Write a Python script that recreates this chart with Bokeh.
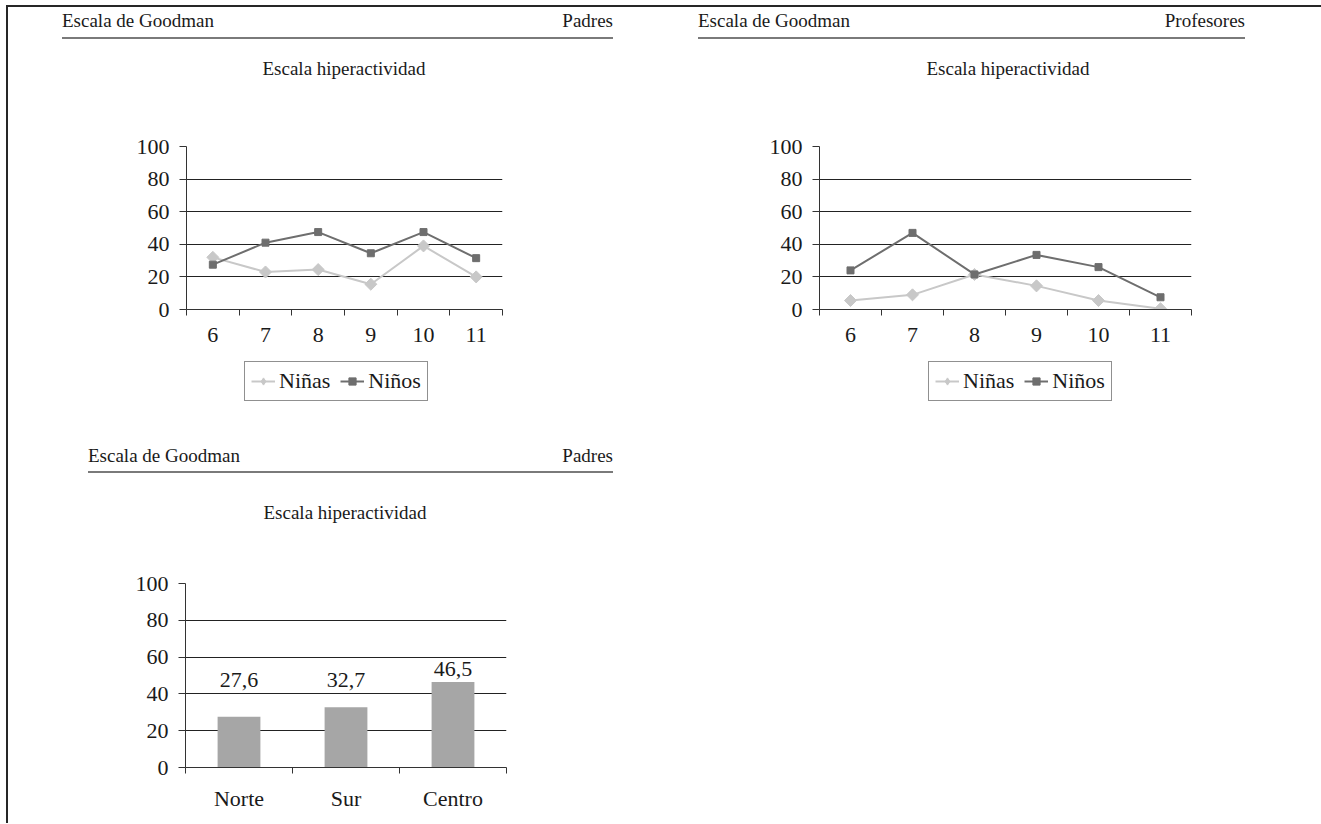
import numpy as np
from bokeh.plotting import figure
from bokeh.models import Range1d, FixedTicker, Legend, LegendItem, Div
from bokeh.layouts import row, column
from bokeh.embed import file_html
from bokeh.resources import INLINE
from bokeh.core.properties import value

FONT = "Liberation Serif"
TXT = "#1a1a1a"

# ---- data ----
ages = [6, 7, 8, 9, 10, 11]
padres_ninas = [32, 23, 24.5, 15.5, 39, 20]
padres_ninos = [27.5, 41, 47.5, 34.5, 47.5, 31.5]
prof_ninas = [5.5, 9, 21.5, 14.5, 5.5, 0.5]
prof_ninos = [24, 47, 21.5, 33.5, 26, 7.5]
regiones = ["Norte", "Sur", "Centro"]
region_vals = [27.6, 32.7, 46.5]
y_ticks = [0, 20, 40, 60, 80, 100]
header_left = "Escala de Goodman"
chart_title = "Escala hiperactividad"
series_names = ["Niñas", "Niños"]

# diamond = square turned by 45 degrees (chart); legend uses the diamond marker
NINAS_STYLE = dict(color="#c8c8c8", marker="square", size=8.5, angle=np.pi / 4,
                   leg_marker="diamond", leg_size=12)
NINOS_STYLE = dict(color="#6e6e6e", marker="square", size=7, angle=0.0,
                   leg_marker="square", leg_size=7)


def header_div(width, height, left_x, right_x, text_top, rule_top, right_text, title_cx, title_top):
    base = (f"position:absolute;font-family:'{FONT}',serif;font-size:19px;line-height:19px;"
            f"color:{TXT};white-space:nowrap;")
    html = (
        f'<div style="position:relative;width:{width}px;height:{height}px;">'
        f'<div style="{base}left:{left_x}px;top:{text_top}px;">{header_left}</div>'
        f'<div style="{base}right:{width - right_x}px;top:{text_top}px;">{right_text}</div>'
        f'<div style="position:absolute;left:{left_x}px;top:{rule_top}px;width:{right_x - left_x}px;'
        f'height:2px;background:#7a7a7a;"></div>'
        f'<div style="{base}left:0px;width:{2 * title_cx}px;text-align:center;top:{title_top}px;">'
        f'{chart_title}</div>'
        f'</div>'
    )
    return Div(text=html, width=width, height=height, margin=(0, 0, 0, 0))


def style_axes(p, xticker):
    p.yaxis.ticker = FixedTicker(ticks=y_ticks)
    p.xaxis.ticker = xticker
    for ax in (p.xaxis, p.yaxis):
        ax.axis_line_color = "#333333"
        ax.major_tick_line_color = "#333333"
        ax.minor_tick_line_color = "#333333"
        ax.major_label_text_font = FONT
        ax.major_label_text_font_size = "22px"
        ax.major_label_text_color = TXT
        ax.major_tick_in = 0
        ax.minor_tick_in = 0
    p.yaxis.major_tick_out = 7
    p.yaxis.major_label_standoff = 10
    p.xaxis.major_tick_out = 0
    p.xaxis.minor_tick_out = 6
    p.xaxis.major_label_standoff = 12
    p.xgrid.visible = False
    p.ygrid.ticker = FixedTicker(ticks=y_ticks)
    p.ygrid.grid_line_color = "#222222"
    p.ygrid.grid_line_width = 1
    p.outline_line_color = None


def draw_series(p, ninas, ninos, for_legend=False):
    out = []
    for vals, st in ((ninas, NINAS_STYLE), (ninos, NINOS_STYLE)):
        l = p.line(ages, vals, line_color=st["color"], line_width=2)
        if for_legend:
            m = p.scatter(ages, vals, marker=st["leg_marker"], size=st["leg_size"],
                          fill_color=st["color"], line_color=st["color"])
        else:
            m = p.scatter(ages, vals, marker=st["marker"], size=st["size"], angle=st["angle"],
                          fill_color=st["color"], line_color=st["color"])
        out.append((l, m))
    return out


def line_chart(width, height, mbl, mbr, mbt, mbb, ninas, ninos):
    p = figure(width=width, height=height, x_range=Range1d(ages[0] - 0.5, ages[-1] + 0.5),
               y_range=Range1d(0, 100), min_border_left=mbl, min_border_right=mbr,
               min_border_top=mbt, min_border_bottom=mbb, toolbar_location=None,
               output_backend="svg")
    bounds = [a - 0.5 for a in ages] + [ages[-1] + 0.5]
    style_axes(p, FixedTicker(ticks=ages, minor_ticks=bounds))
    draw_series(p, ninas, ninos)
    return p


def legend_fig(width, height, mbl, mbr, ninas, ninos, loc):
    # a strip below the chart that only carries the legend (its glyphs lie outside its range)
    p = figure(width=width, height=height, x_range=Range1d(ages[0] - 0.5, ages[-1] + 0.5),
               y_range=Range1d(1000, 1100), min_border_left=mbl, min_border_right=mbr,
               min_border_top=0, min_border_bottom=0, toolbar_location=None,
               output_backend="svg", x_axis_location=None, y_axis_location=None)
    p.grid.visible = False
    p.outline_line_color = None
    (l1, m1), (l2, m2) = draw_series(p, ninas, ninos, for_legend=True)
    legend = Legend(items=[LegendItem(label=series_names[0], renderers=[l1, m1]),
                           LegendItem(label=series_names[1], renderers=[l2, m2])],
                    orientation="horizontal", location=loc,
                    border_line_color="#222222", border_line_width=1,
                    background_fill_color="white", background_fill_alpha=1,
                    label_text_font=FONT, label_text_font_size="22px", label_text_color=TXT,
                    glyph_width=24, glyph_height=18, spacing=10, padding=6, label_standoff=4,
                    margin=0, label_height=22)
    p.add_layout(legend, "center")
    return p


def bar_chart(width, height, mbl, mbr, mbt, mbb):
    idx = list(range(len(regiones)))
    p = figure(width=width, height=height, x_range=Range1d(-0.5, len(regiones) - 0.5),
               y_range=Range1d(0, 100), min_border_left=mbl, min_border_right=mbr,
               min_border_top=mbt, min_border_bottom=mbb, toolbar_location=None,
               output_backend="svg")
    bounds = [i - 0.5 for i in idx] + [idx[-1] + 0.5]
    style_axes(p, FixedTicker(ticks=idx, minor_ticks=bounds))
    p.xaxis.major_label_overrides = {i: r for i, r in enumerate(regiones)}
    p.vbar(x=idx, top=region_vals, width=0.4, fill_color="#a6a6a6", line_color=None)
    vals = np.array(region_vals)
    label_y = np.maximum(vals + 3, 43.5)
    labels = [f"{v:.1f}".replace(".", ",") for v in region_vals]
    p.text(x=idx, y=list(label_y), text=labels, text_font=value(FONT), text_font_size="22px",
           text_align="center", text_baseline="bottom", text_color=TXT)
    return p


# page x 8..660 / 660..1321 ; top row y 7..415 ; bottom row y 415..823
dA = header_div(652, 119, 54, 605, 4, 30, "Padres", 336, 52)
pA = line_chart(652, 228, 178, 158, 20, 45, padres_ninas, padres_ninos)
lA = legend_fig(652, 61, 178, 158, padres_ninas, padres_ninos, (58, 14))
dB = header_div(661, 119, 38, 585, 4, 30, "Profesores", 348, 52)
pB = line_chart(661, 228, 159, 130, 20, 45, prof_ninas, prof_ninos)
lB = legend_fig(661, 61, 159, 130, prof_ninas, prof_ninos, (109, 14))
dC = header_div(652, 148, 80, 605, 31, 56, "Padres", 337, 88)
pC = bar_chart(652, 260, 177, 154, 20, 56)

layout = column(row(column(dA, pA, lA), column(dB, pB, lB)), column(dC, pC),
                styles={"margin-left": "6px", "margin-top": "5px",
                        "border-left": "2px solid #262626", "border-top": "2px solid #262626"})

open("out.html", "w").write(file_html(layout, INLINE))
